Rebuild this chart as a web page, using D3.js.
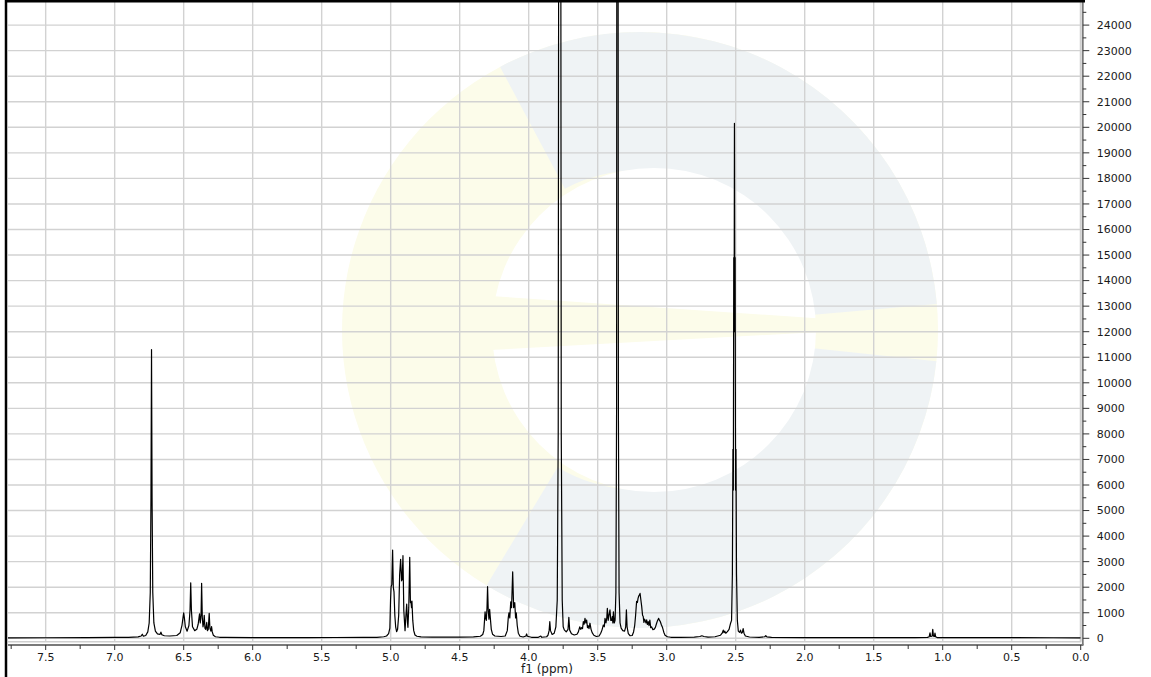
<!DOCTYPE html>
<html><head><meta charset="utf-8">
<script src="https://cdn.jsdelivr.net/npm/d3@7"></script>
<style>html,body{margin:0;padding:0;background:#fff;overflow:hidden}svg{display:block}</style>
</head><body>
<svg id="chart" width="1151" height="677"></svg>
<script>
// ---- data (ppm, intensity) ----
const aromaticRegion = [[7.773,20],[7.5,22],[7.2,25],[7.0,35],[6.9,40],[6.83,55],[6.808,90],[6.800,160],[6.792,80],[6.775,110],[6.76,250],[6.750,600],[6.742,1800],[6.737,5500],[6.733,11300],[6.729,5500],[6.724,1800],[6.716,600],[6.705,280],[6.69,170],[6.672,150],[6.665,240],[6.658,140],[6.64,100],[6.6,90],[6.55,110],[6.525,220],[6.512,520],[6.505,800],[6.500,1000],[6.495,800],[6.488,450],[6.475,280],[6.462,500],[6.454,1100],[6.449,2175],[6.444,1100],[6.436,450],[6.42,300],[6.405,350],[6.395,550],[6.389,800],[6.385,960],[6.380,600],[6.374,900],[6.370,2150],[6.365,800],[6.360,450],[6.355,600],[6.351,900],[6.346,400],[6.340,350],[6.333,620],[6.328,300],[6.322,350],[6.315,980],[6.310,400],[6.303,280],[6.298,460],[6.293,250],[6.285,120],[6.27,60],[6.24,40]];
const anomericRegion = [[6.2,35],[6.0,30],[5.8,30],[5.6,30],[5.4,32],[5.2,35],[5.1,40],[5.05,60],[5.03,90],[5.015,180],[5.006,400],[5.001,1500],[4.997,2020],[4.992,2100],[4.986,3456],[4.981,2000],[4.976,1820],[4.970,900],[4.964,450],[4.957,260],[4.950,350],[4.942,900],[4.935,2500],[4.928,3090],[4.921,2250],[4.917,2300],[4.911,3235],[4.905,1100],[4.896,300],[4.890,850],[4.884,1340],[4.878,600],[4.875,430],[4.869,1200],[4.862,3170],[4.857,1400],[4.853,1430],[4.849,1200],[4.846,1460],[4.840,700],[4.833,300],[4.824,130],[4.81,80],[4.78,55]];
const midRegion = [[4.7,45],[4.6,45],[4.5,45],[4.4,55],[4.35,80],[4.333,150],[4.325,300],[4.320,700],[4.316,1040],[4.312,800],[4.307,700],[4.302,1200],[4.298,2020],[4.293,1100],[4.288,750],[4.283,1135],[4.278,800],[4.271,350],[4.262,160],[4.245,90],[4.2,70],[4.17,90],[4.155,300],[4.148,800],[4.143,1000],[4.137,800],[4.130,1430],[4.124,1200],[4.116,2600],[4.109,1200],[4.101,1400],[4.095,800],[4.090,1000],[4.083,500],[4.075,200],[4.063,80],[4.04,50],[4.02,90],[4.015,170],[4.010,80],[3.98,40],[3.93,40],[3.912,90],[3.905,40],[3.87,60]];
const sugarRegion = [[3.86,120],[3.852,300],[3.847,650],[3.842,300],[3.83,150],[3.815,200],[3.803,450],[3.793,1500],[3.786,8000],[3.780,45000],[3.775,80000],[3.770,45000],[3.764,8000],[3.757,1500],[3.750,450],[3.742,330],[3.728,250],[3.715,350],[3.709,820],[3.703,320],[3.69,180],[3.67,130],[3.65,160],[3.640,250],[3.630,450],[3.623,350],[3.616,420],[3.610,380],[3.604,650],[3.598,550],[3.592,780],[3.586,600],[3.580,715],[3.574,420],[3.570,500],[3.563,380],[3.556,590],[3.548,350],[3.540,220],[3.528,120],[3.510,70],[3.49,90],[3.478,200],[3.469,320],[3.459,520],[3.452,450],[3.447,780],[3.440,600],[3.434,800],[3.430,1170],[3.424,700],[3.418,910],[3.411,1110],[3.405,700],[3.399,700],[3.394,850],[3.390,600],[3.386,1040],[3.380,600],[3.374,700],[3.368,1800],[3.363,9000],[3.360,45000],[3.357,80000],[3.354,45000],[3.350,9000],[3.345,1800],[3.338,600],[3.330,400],[3.318,300],[3.305,280],[3.297,450],[3.292,1110],[3.287,450],[3.278,180],[3.265,100],[3.25,110],[3.240,250],[3.232,500],[3.226,850],[3.218,1450],[3.212,1400],[3.208,1550],[3.203,1650],[3.197,1700],[3.193,1760],[3.187,1500],[3.181,1240],[3.175,900],[3.170,850],[3.165,620],[3.160,750],[3.155,680],[3.150,600],[3.145,720],[3.140,540],[3.134,650],[3.128,500],[3.122,710],[3.116,420],[3.110,450],[3.100,340],[3.090,360],[3.082,430],[3.073,590],[3.066,700],[3.058,780],[3.052,700],[3.046,650],[3.038,520],[3.030,420],[3.021,240],[3.012,120],[2.995,60],[2.97,40]];
const aliphaticRegion = [[2.9,40],[2.8,45],[2.76,70],[2.745,100],[2.73,70],[2.7,45],[2.65,60],[2.61,120],[2.598,200],[2.590,320],[2.585,220],[2.579,280],[2.572,200],[2.560,260],[2.548,350],[2.537,590],[2.530,700],[2.524,2500],[2.520,7400],[2.517,5800],[2.514,14900],[2.5115,12000],[2.509,20150],[2.5065,12000],[2.504,14900],[2.501,5800],[2.498,7400],[2.494,2500],[2.488,700],[2.481,280],[2.472,230],[2.465,320],[2.459,200],[2.452,230],[2.446,380],[2.440,200],[2.43,90],[2.40,50],[2.33,40],[2.29,60],[2.282,100],[2.274,55],[2.24,35],[2.0,30],[1.8,30],[1.5,30],[1.2,30],[1.11,35],[1.098,60],[1.092,210],[1.087,70],[1.077,80],[1.072,350],[1.067,80],[1.060,70],[1.056,200],[1.051,60],[1.045,45],[1.04,30],[0.8,25],[0.5,25],[0.2,22],[0,20]];

const xTickValues = [7.5,7.0,6.5,6.0,5.5,5.0,4.5,4.0,3.5,3.0,2.5,2.0,1.5,1.0,0.5,0.0];
const xTickLabels = ["7.5","7.0","6.5","6.0","5.5","5.0","4.5","4.0","3.5","3.0","2.5","2.0","1.5","1.0","0.5","0.0"];
const xMinorTicks = [7.75,7.25,6.75,6.25,5.75,5.25,4.75,4.25,3.75,3.25,2.75,2.25,1.75,1.25,0.75,0.25];
const yTickValues = [0,1000,2000,3000,4000,5000,6000,7000,8000,9000,10000,11000,12000,13000,14000,15000,16000,17000,18000,19000,20000,21000,22000,23000,24000];
const yMinorTicks = [500,1500,2500,3500,4500,5500,6500,7500,8500,9500,10500,11500,12500,13500,14500,15500,16500,17500,18500,19500,20500,21500,22500,23500,24500];
const xAxisTitle = "f1 (ppm)";

const spectrum = [].concat(aromaticRegion, anomericRegion, midRegion, sugarRegion, aliphaticRegion);

// ---- layout ----
const svg = d3.select("#chart");
const plot = {left: 8, right: 1080.7, top: 2, bottom: 641.5};
const x = d3.scaleLinear().domain([7.773, 0]).range([plot.left, plot.right]);
const y = d3.scaleLinear().domain([0, 24000]).range([638.3, 638.3 - 24000 * 0.02555]);
const font = "DejaVu Sans, Verdana, sans-serif";

// watermark (decorative)
const wm = svg.append("g").attr("transform", "translate(640,330)");
wm.append("circle").attr("r", 298).attr("fill", "#fcfcea");
const arc = d3.arc();
wm.append("path").attr("fill", "#eff3f5")
  .attr("d", arc({innerRadius: 160, outerRadius: 298, startAngle: -28 * Math.PI / 180, endAngle: 85 * Math.PI / 180}));
wm.append("path").attr("fill", "#eff3f5")
  .attr("d", arc({innerRadius: 160, outerRadius: 298, startAngle: 96 * Math.PI / 180, endAngle: 211 * Math.PI / 180}));
wm.append("circle").attr("cx", 14).attr("r", 162).attr("fill", "#ffffff");
wm.append("path").attr("fill", "#fcfcea").attr("d", "M-150,-34 L-150,20 L290,-4 Z");

// grid
const grid = svg.append("g");
grid.selectAll("line.v").data(xTickValues).join("line")
  .attr("x1", d => x(d)).attr("x2", d => x(d)).attr("y1", plot.top).attr("y2", plot.bottom)
  .attr("stroke", "#d2d2d2").attr("stroke-width", 1.4);
grid.selectAll("line.h").data(yTickValues).join("line")
  .attr("x1", plot.left).attr("x2", plot.right).attr("y1", d => y(d)).attr("y2", d => y(d))
  .attr("stroke", "#d2d2d2").attr("stroke-width", 1.4);

// frame lines
svg.append("line").attr("x1", 1080.5).attr("x2", 1080.5).attr("y1", 2).attr("y2", 642)
  .attr("stroke", "#cfcfcf").attr("stroke-width", 1.5);
svg.append("line").attr("x1", plot.left).attr("x2", 1081).attr("y1", 641.8).attr("y2", 641.8)
  .attr("stroke", "#cfcfcf").attr("stroke-width", 1.5);
svg.append("line").attr("x1", 1082.8).attr("x2", 1082.8).attr("y1", 2).attr("y2", 645)
  .attr("stroke", "#7a7a7a").attr("stroke-width", 1.8);
svg.append("line").attr("x1", plot.left).attr("x2", 1083.5).attr("y1", 645).attr("y2", 645)
  .attr("stroke", "#7a7a7a").attr("stroke-width", 1.8);

// spectrum
svg.append("clipPath").attr("id", "clip").append("rect")
  .attr("x", plot.left).attr("y", plot.top).attr("width", plot.right - plot.left).attr("height", plot.bottom - plot.top);
const line = d3.line().x(d => x(d[0])).y(d => y(d[1]));
svg.append("path").datum(spectrum).attr("d", line).attr("clip-path", "url(#clip)")
  .attr("fill", "none").attr("stroke", "#000").attr("stroke-width", 1.2).attr("stroke-linejoin", "round");

// right axis
const yAxis = svg.append("g").attr("transform", "translate(1082.8,0)");
yAxis.selectAll("line.maj").data(yTickValues).join("line")
  .attr("x1", 0).attr("x2", 6.5).attr("y1", d => y(d)).attr("y2", d => y(d))
  .attr("stroke", "#333").attr("stroke-width", 1);
yAxis.selectAll("line.min").data(yMinorTicks).join("line")
  .attr("x1", 0).attr("x2", 3.5).attr("y1", d => y(d)).attr("y2", d => y(d))
  .attr("stroke", "#333").attr("stroke-width", 1);
yAxis.selectAll("text").data(yTickValues).join("text")
  .attr("x", 14).attr("y", d => y(d)).attr("dy", "0.35em")
  .attr("font-family", font).attr("font-size", 11).attr("fill", "#1a1a1a")
  .text(d => d);

// bottom axis
const xAxis = svg.append("g").attr("transform", "translate(0,645)");
xAxis.selectAll("line.maj").data(xTickValues).join("line")
  .attr("x1", d => x(d)).attr("x2", d => x(d)).attr("y1", 0).attr("y2", 5)
  .attr("stroke", "#333").attr("stroke-width", 1);
xAxis.selectAll("line.min").data(xMinorTicks).join("line")
  .attr("x1", d => x(d)).attr("x2", d => x(d)).attr("y1", 0).attr("y2", 4)
  .attr("stroke", "#333").attr("stroke-width", 1);
xAxis.selectAll("text").data(xTickValues).join("text")
  .attr("x", d => x(d)).attr("y", 12.5).attr("dy", "0.35em").attr("text-anchor", "middle")
  .attr("font-family", font).attr("font-size", 11).attr("fill", "#1a1a1a")
  .text((d, i) => xTickLabels[i]);
svg.append("text").attr("x", 547).attr("y", 669).attr("dy", "0.35em").attr("text-anchor", "middle")
  .attr("font-family", font).attr("font-size", 12).attr("fill", "#1a1a1a").text(xAxisTitle);

// outer black borders (top and left)
svg.append("line").attr("x1", 5).attr("x2", 1085).attr("y1", 1.2).attr("y2", 1.2)
  .attr("stroke", "#000").attr("stroke-width", 2.5);
svg.append("line").attr("x1", 6).attr("x2", 6).attr("y1", 0).attr("y2", 677)
  .attr("stroke", "#000").attr("stroke-width", 2.5);
</script>
</body></html>
